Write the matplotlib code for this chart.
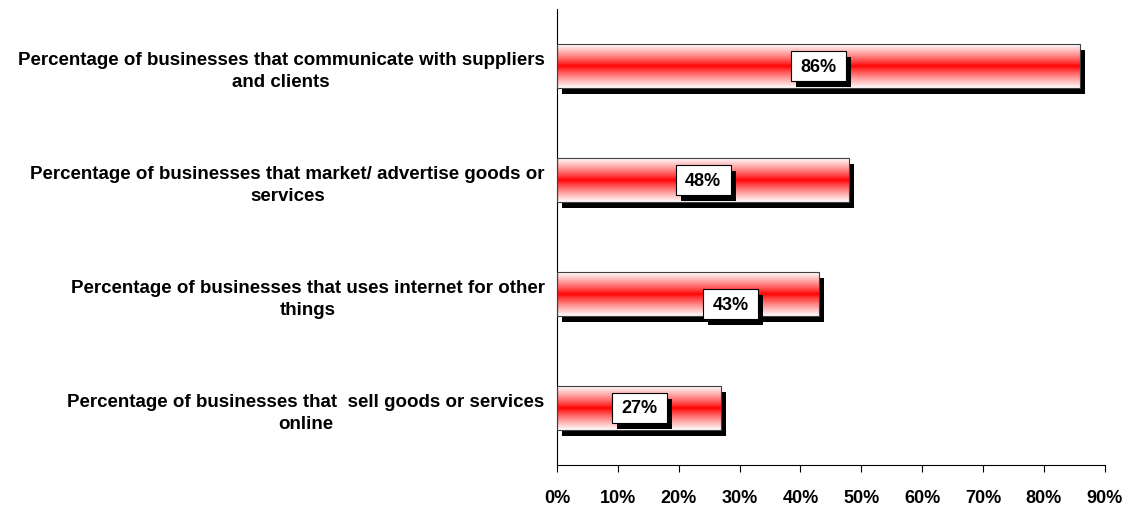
import numpy as np
import matplotlib.pyplot as plt
from matplotlib.patches import Rectangle
from matplotlib.transforms import ScaledTranslation

plt.rcParams['font.family'] = ['Liberation Sans', 'DejaVu Sans']

categories = [
    "Percentage of businesses that communicate with suppliers\nand clients",
    "Percentage of businesses that market/ advertise goods or\nservices",
    "Percentage of businesses that uses internet for other\nthings",
    "Percentage of businesses that  sell goods or services\nonline",
]
values = [86, 48, 43, 27]
xticks = [0, 10, 20, 30, 40, 50, 60, 70, 80, 90]

# label box nudges in pixels (the 43% label was dragged aside)
label_nudge = [(0, 0), (0, 0), (43, 10), (0, 0)]

DPI = 100
fig = plt.figure(figsize=(11.3, 5.1), dpi=DPI)
ax = fig.add_axes([0.493, 0.0863, 0.4845, 0.894])

ypos = np.arange(len(values))
bar_h = 0.38
shadow = ScaledTranslation(5 / DPI, -6 / DPI, fig.dpi_scale_trans)

# vertical white-red-white gradient
t = np.linspace(-1, 1, 256)
gb = np.abs(t) ** 0.85
grad = np.stack([np.ones_like(t), gb, gb], axis=1)[:, None, :]

for y, v in zip(ypos, values):
    ax.add_patch(Rectangle((0, y - bar_h / 2), v, bar_h, facecolor='black',
                           edgecolor='none', transform=ax.transData + shadow, zorder=1))
    ax.imshow(grad, extent=[0, v, y - bar_h / 2, y + bar_h / 2],
              aspect='auto', interpolation='bilinear', zorder=2)
    ax.add_patch(Rectangle((0, y - bar_h / 2), v, bar_h, facecolor='none',
                           edgecolor='#404040', linewidth=0.8, zorder=3))

# value labels: white box with a black drop shadow
for y, v, (dx, dy) in zip(ypos, values, label_nudge):
    anchor = fig.dpi_scale_trans + ScaledTranslation(v / 2, y, ax.transData)
    cx, cy = dx / DPI, -dy / DPI
    w, h = 0.55, 0.30
    ax.add_patch(Rectangle((cx - w / 2 + 0.05, cy - h / 2 - 0.06), w, h,
                           facecolor='black', edgecolor='none', transform=anchor, zorder=4))
    ax.add_patch(Rectangle((cx - w / 2, cy - h / 2), w, h, facecolor='white',
                           edgecolor='black', linewidth=0.8, transform=anchor, zorder=5))
    ax.text(cx, cy, f"{v}%", transform=anchor, ha='center', va='center',
            fontsize=13, fontweight='bold', zorder=6)

ax.set_xlim(0, 90)
ax.set_ylim(len(values) - 0.5, -0.5)
ax.set_xticks(xticks)
ax.set_xticklabels([f"{x}%" for x in xticks], fontsize=13, fontweight='bold')
ax.set_yticks(ypos)
ax.set_yticklabels(categories, fontsize=13.5, fontweight='bold',
                   multialignment='center', linespacing=1.35)
ax.tick_params(axis='y', length=0, pad=9)
ax.tick_params(axis='x', direction='out', length=5, width=0.8, pad=12.5)
for side in ('top', 'right'):
    ax.spines[side].set_visible(False)
for side in ('left', 'bottom'):
    ax.spines[side].set_linewidth(0.8)

fig.savefig('out.png', dpi=DPI)
